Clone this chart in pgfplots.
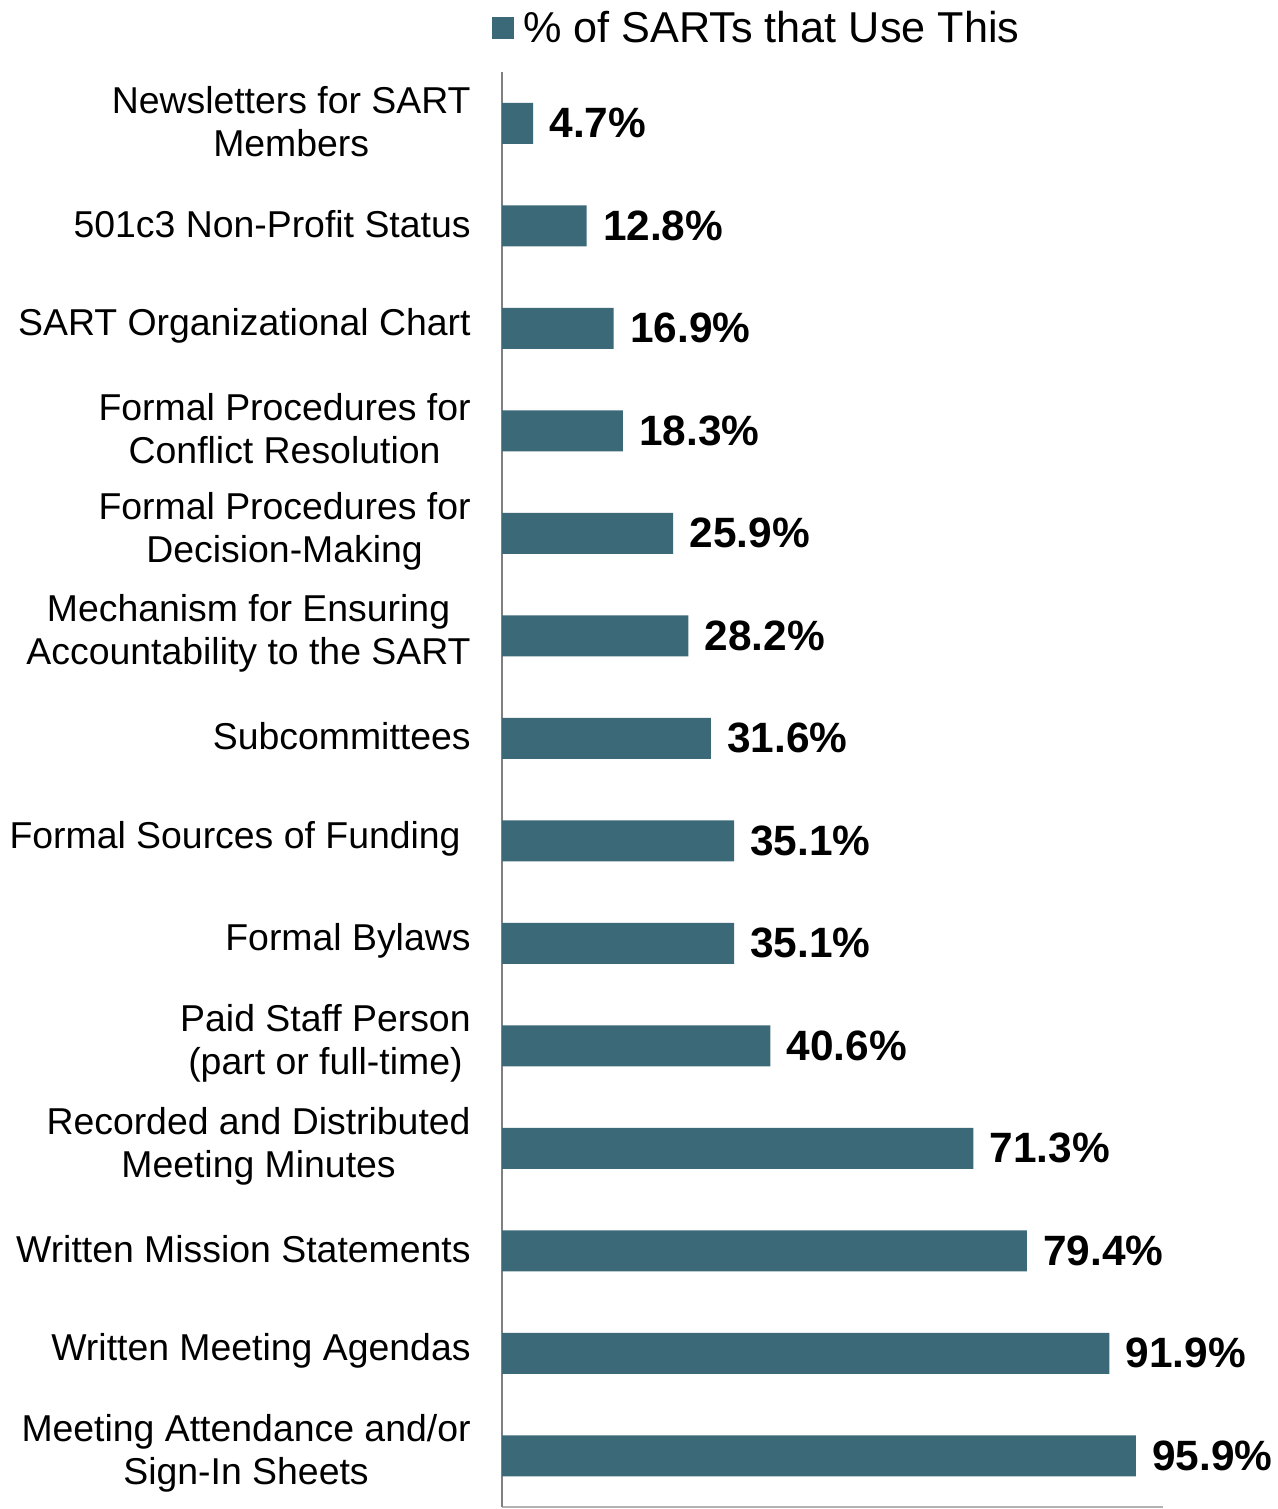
\documentclass[border=0pt]{standalone}
\usepackage{fontspec}
\setmainfont{Liberation Sans}
\usepackage{pgfplots}
\usepackage{pgfplotstable}
\pgfplotsset{compat=1.18}
\definecolor{barc}{RGB}{59,105,120}
\pgfplotstableread{
pos val
0 4.7
1 12.8
2 16.9
3 18.3
4 25.9
5 28.2
6 31.6
7 35.1
8 35.1
9 40.6
10 71.3
11 79.4
12 91.9
13 95.9
}\datatable
\begin{document}
\begin{tikzpicture}
\begin{axis}[
  scale only axis,
  width=330.5pt, height=717.5pt,
  xbar, bar width=20.5pt,
  xmin=0, xmax=100,
  ymin=-0.5, ymax=13.5,
  y dir=reverse,
  axis x line*=bottom, axis y line*=left,
  x axis line style={-, draw=black!30, line width=1pt},
  y axis line style={-, draw=black!50, line width=1pt},
  xtick=\empty,
  ytick={0,...,13},
  major tick length=0pt,
  yticklabel style={align=center, inner sep=0pt, font=\fontsize{18.7}{21.5}\selectfont, yshift=1pt},
  yticklabel shift=15.5pt,
  yticklabels={
    {Newsletters for SART\\Members},
    {501c3 Non-Profit Status},
    {SART Organizational Chart},
    {Formal Procedures for\\Conflict Resolution},
    {Formal Procedures for\\Decision-Making},
    {Mechanism for Ensuring\\Accountability to the SART},
    {Subcommittees},
    {Formal Sources of Funding\hspace{5pt}},
    {Formal Bylaws},
    {Paid Staff Person\\(part or full-time)},
    {Recorded and Distributed\\Meeting Minutes},
    {Written Mission Statements},
    {Written Meeting Agendas},
    {Meeting Attendance and/or\\Sign-In Sheets}},
  nodes near coords={\pgfmathprintnumber[fixed,fixed zerofill,precision=1,assume math mode=true]{\pgfplotspointmeta}\%},
  point meta=x,
  every node near coord/.append style={anchor=west, inner sep=0pt, xshift=8pt, font=\bfseries\fontsize{21.2}{24}\selectfont, text=black},
  legend style={at={(axis description cs:0.387,1.0307)}, anchor=center, draw=none, fill=none,
    font=\fontsize{21.6}{25}\selectfont, inner sep=0pt},
  clip=false,
]
\addplot[fill=barc, draw=none, legend image code/.code={\fill[barc] (0pt,-5.5pt) rectangle (11pt,5.5pt); \path (13.5pt,0pt);}] table[x=val, y=pos] {\datatable};
\addlegendentry{\% of SARTs that Use This}
\coordinate (bbl) at (axis description cs:-0.7595,-0.0014);
\coordinate (btr) at (axis description cs:1.1740,1.0502);
\end{axis}
\pgfresetboundingbox
\path[use as bounding box] (bbl) rectangle (btr);
\end{tikzpicture}
\end{document}
